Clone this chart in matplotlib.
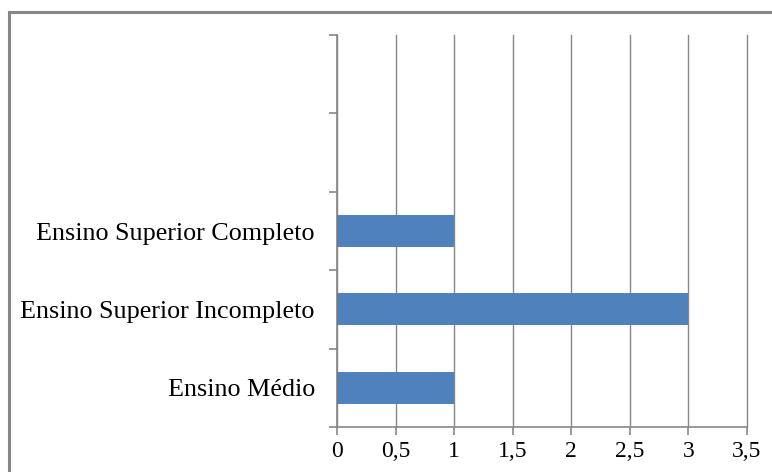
import matplotlib
matplotlib.use("Agg")
import matplotlib.pyplot as plt
from matplotlib.lines import Line2D
from matplotlib.ticker import FuncFormatter, MultipleLocator, FixedLocator

# Escolaridade dos respondentes (duas posições vazias no topo)
categorias = ["Ensino Médio", "Ensino Superior Incompleto", "Ensino Superior Completo", "", ""]
valores = [1, 3, 1, None, None]

plt.rcParams["font.family"] = ["Liberation Serif", "DejaVu Serif"]

fig = plt.figure(figsize=(7.72, 4.72), dpi=100)
ax = fig.add_axes([0.4365, 0.0953, 0.9676 - 0.4365, 0.9258 - 0.0953])

cinza = "#878787"
n = len(categorias)
pos = list(range(n))
for p, v in zip(pos, valores):
    if v is not None:
        ax.barh(p, v, height=0.41, color="#4F81BD", zorder=3)

ax.set_xlim(0, 3.5)
ax.set_ylim(-0.5, n - 0.5)
ax.xaxis.set_major_locator(MultipleLocator(0.5))
ax.xaxis.set_major_formatter(FuncFormatter(lambda x, _: f"{x:g}".replace(".", ",")))
ax.grid(axis="x", color=cinza, linewidth=1.0, zorder=0)
for linha in ax.get_xgridlines():
    linha.set_clip_on(False)

# Marcas do eixo y nas divisas das categorias, rótulos no centro
ax.yaxis.set_major_locator(FixedLocator([i - 0.5 for i in range(n + 1)]))
ax.yaxis.set_major_formatter(FuncFormatter(lambda y, _: ""))
ax.yaxis.set_minor_locator(FixedLocator(pos))
ax.set_yticklabels(categorias, minor=True)
ax.tick_params(axis="y", which="minor", length=0, pad=16, labelsize=18.8)
ax.tick_params(axis="y", which="major", length=6, width=1.2, color=cinza, direction="out")
ax.tick_params(axis="x", length=6, width=1.2, color=cinza, direction="out", labelsize=17, pad=4)

for lado in ("top", "right"):
    ax.spines[lado].set_visible(False)
for lado in ("left", "bottom"):
    ax.spines[lado].set_color(cinza)
    ax.spines[lado].set_linewidth(1.2)

# Moldura do gráfico
fig.add_artist(Line2D([9 / 772, 9 / 772], [1 - 12 / 472, 0], color=cinza, linewidth=2.2))
fig.add_artist(Line2D([9 / 772, 1], [1 - 12 / 472, 1 - 12 / 472], color=cinza, linewidth=2.2))

fig.savefig("out.png", dpi=100)
